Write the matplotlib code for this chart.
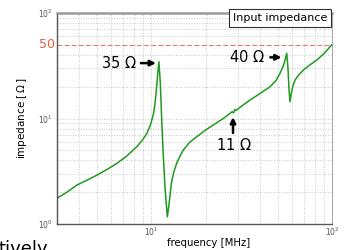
import numpy as np
import matplotlib
matplotlib.use("Agg")
import matplotlib.pyplot as plt

# impedance curve: frequency [MHz], |Z| [Ohm]
freq = [3.0, 3.4, 3.87, 4.4, 5.0, 5.7, 6.45, 7.3, 8.3, 8.9, 9.45, 9.9, 10.3, 10.5, 10.7, 10.85, 11.0,
        11.2, 11.4, 11.6, 11.9, 12.25, 12.5, 12.9, 13.3, 13.8, 14.4, 15.0, 16.2, 17.8, 19.8, 22.0,
        25.0, 28.0, 28.5, 29.0, 29.4, 31.0, 35.2, 40.0, 45.4, 49.0, 51.5, 53.5, 55.0, 56.1,
        57.0, 57.8, 58.5, 59.5, 60.8, 62.4, 65.5, 69.4, 75.0, 82.2, 90.0, 99.5]
imp = [1.75, 2.0, 2.34, 2.6, 2.91, 3.3, 3.76, 4.4, 5.4, 6.2, 7.24, 8.8, 11.3, 14.5, 20.0, 27.0, 34.5,
       22.0, 10.0, 5.0, 2.2, 1.17, 1.5, 2.43, 3.1, 3.76, 4.4, 5.0, 5.9, 6.7, 7.7, 8.68,
       10.0, 11.6, 11.3, 12.2, 11.9, 12.8, 15.0, 17.3, 20.0, 23.0, 26.8, 31.0, 36.0, 41.5,
       30.0, 18.5, 14.4, 17.5, 20.5, 23.2, 26.0, 28.8, 32.0, 35.8, 41.0, 49.8]

ref_level = 50

fig = plt.figure(figsize=(3.47, 2.5), dpi=100)
ax = fig.add_axes([0.164, 0.104, 0.793, 0.844])

ax.plot(freq, imp, color="#1f9a1f", lw=1.1)
ax.axhline(ref_level, color="#e06060", lw=0.8, ls=(0, (4, 2.5)), alpha=0.85)

ax.set_xscale("log")
ax.set_yscale("log")
ax.set_xlim(3, 100)
ax.set_ylim(1, 100)

ax.grid(True, which="both", color="#c8c8c8", ls=":", lw=0.7)
ax.tick_params(which="both", length=0, labelsize=5.5, labelcolor="#555555", pad=3)
ax.tick_params(axis="x", which="both", pad=1.5)
for s in ["left", "bottom"]:
    ax.spines[s].set_color("#555555")
    ax.spines[s].set_linewidth(1.0)
ax.spines["top"].set_color("#999999")
ax.spines["top"].set_linewidth(1.8)
ax.spines["right"].set_color("#aaaaaa")
ax.spines["right"].set_linewidth(0.8)

ax.set_xlabel("frequency [MHz]", fontsize=7.3, va="center")
ax.xaxis.set_label_coords(0.55, -0.092)
ax.set_ylabel(r"impedance [$\,\Omega\,$]", fontsize=7.5, labelpad=6)

ax.text(-0.008, ref_level, "50", color="#e8603c", fontsize=9, ha="right", va="center",
        transform=ax.get_yaxis_transform())

arrow = dict(arrowstyle="-|>", color="black", lw=1.8, mutation_scale=8, shrinkA=0, shrinkB=0)
ax.annotate("", xy=(10.6, 33.5), xytext=(8.75, 33.5), arrowprops=arrow)
ax.text(8.3, 33.5, r"35 $\Omega$", fontsize=10.5, ha="right", va="center")
ax.annotate("", xy=(52.5, 38.0), xytext=(45.5, 38.0), arrowprops=arrow)
ax.text(42.5, 38.0, r"40 $\Omega$", fontsize=10.5, ha="right", va="center")
ax.annotate("", xy=(28.3, 10.3), xytext=(28.3, 7.3), arrowprops=arrow)
ax.text(28.5, 5.6, r"11 $\Omega$", fontsize=10.5, ha="center", va="center")

ax.text(0.983, 0.978, "Input impedance", transform=ax.transAxes, fontsize=8, ha="right", va="center",
        bbox=dict(boxstyle="square,pad=0.35", fc="white", ec="#333333", lw=0.8))

fig.text(-0.005, -0.03, "tively", fontsize=13, ha="left", va="bottom")

fig.savefig("out.png", dpi=100)
